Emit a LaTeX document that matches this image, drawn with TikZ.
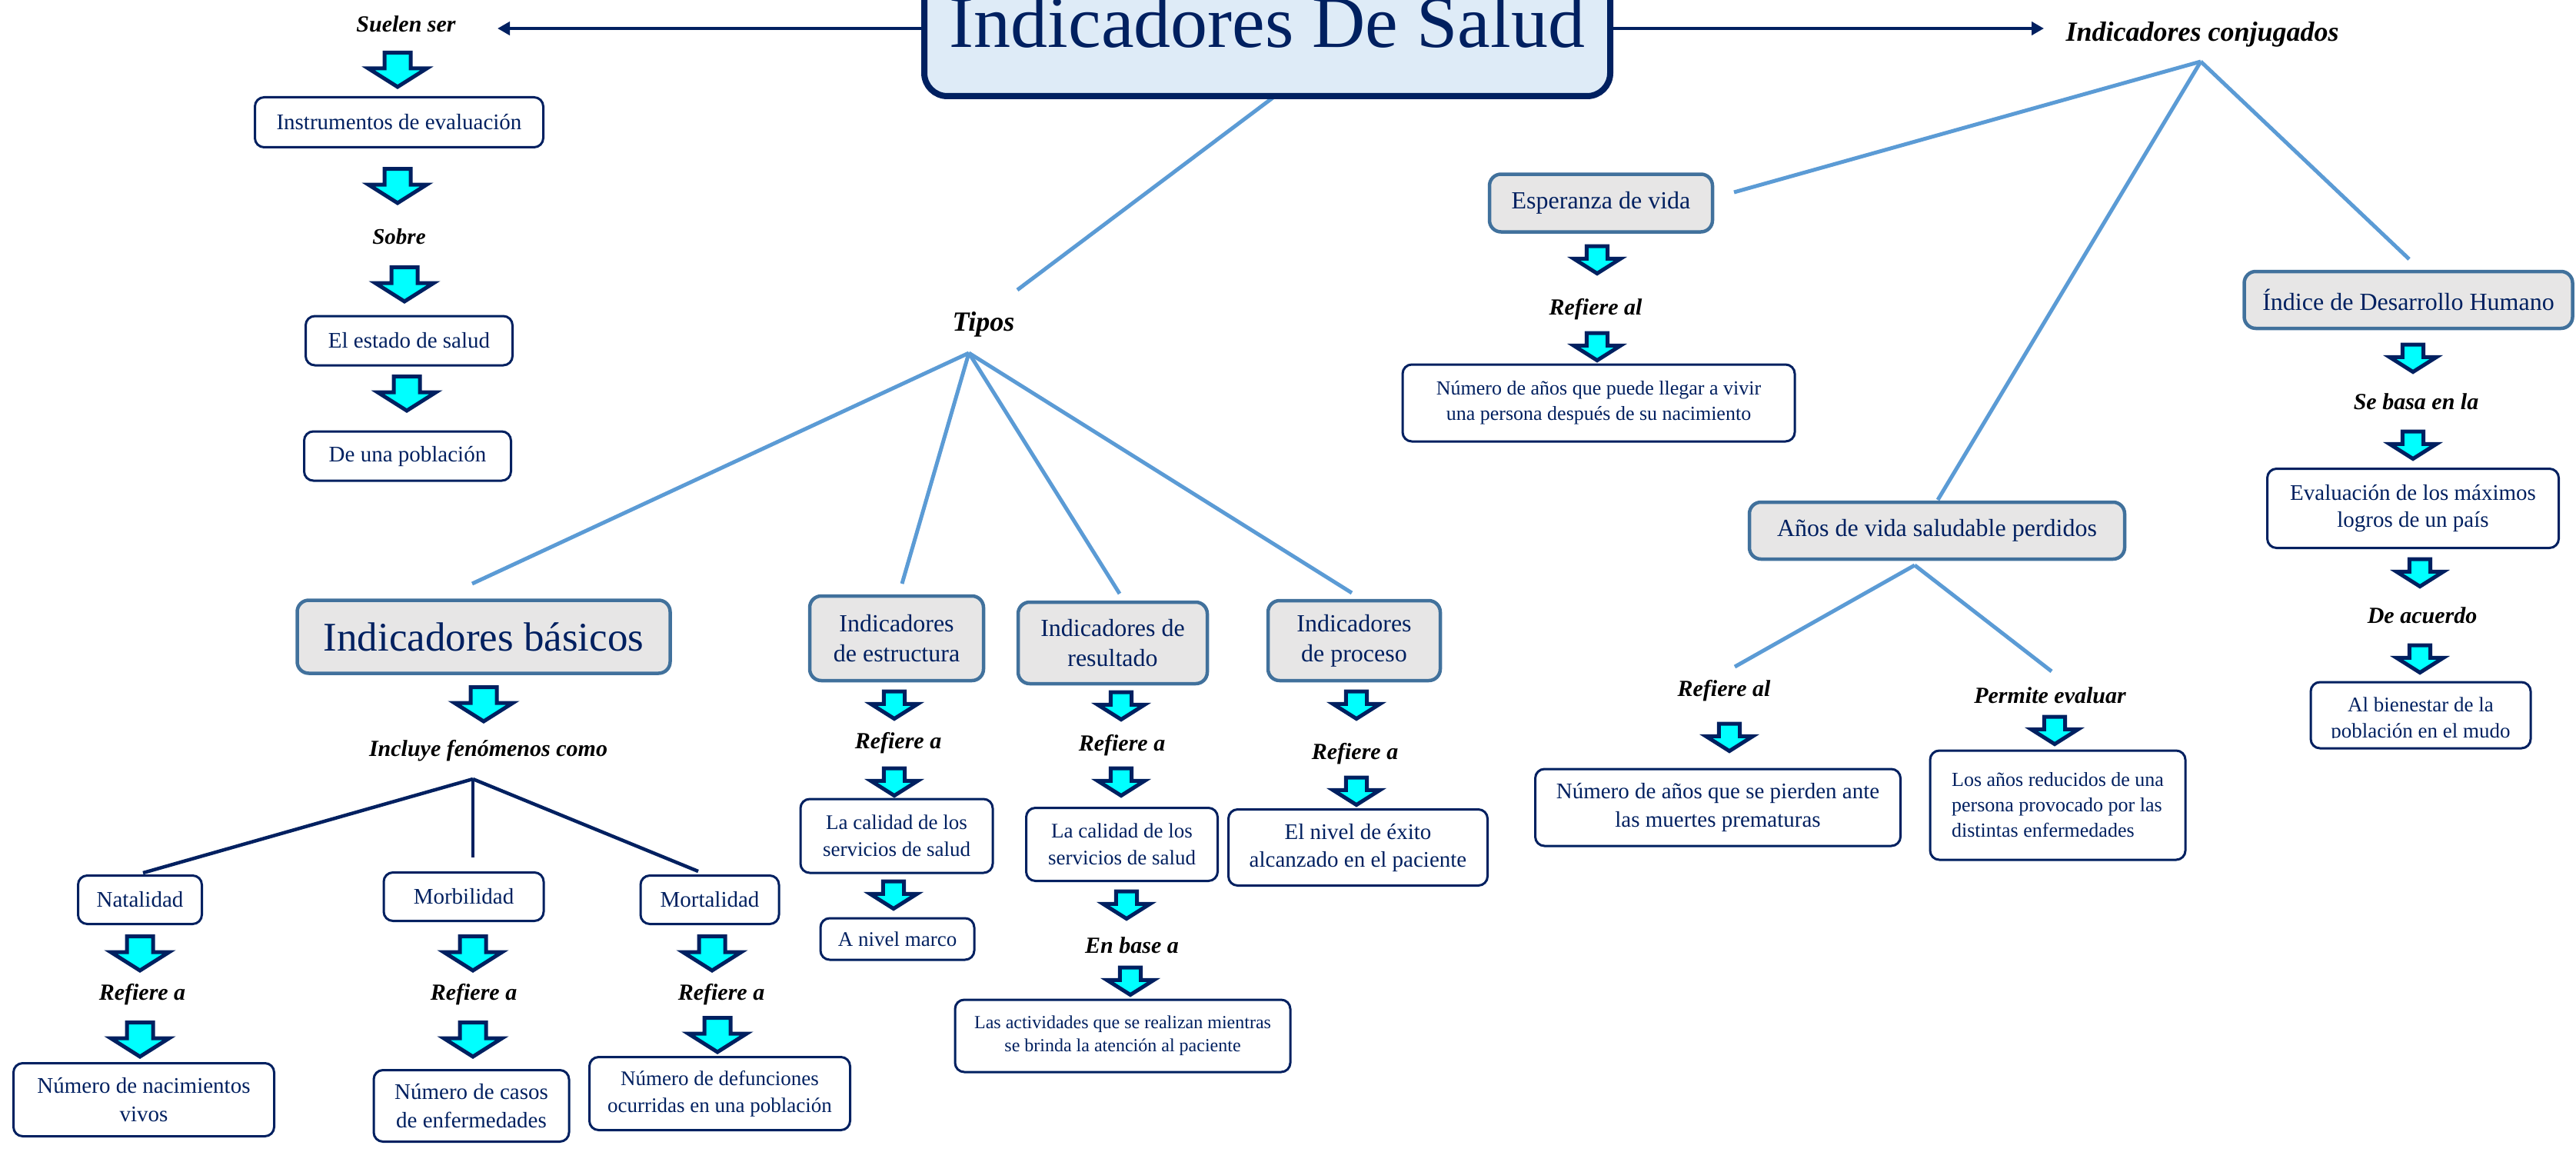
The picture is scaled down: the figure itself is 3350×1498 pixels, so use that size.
\documentclass[tikz,border=0pt]{standalone}
\usepackage{fontspec}
\setmainfont{Liberation Serif}
\usetikzlibrary{arrows.meta}
\definecolor{navy}{HTML}{002060}
\definecolor{steel}{HTML}{41719C}
\definecolor{boxgray}{HTML}{E7E6E6}
\definecolor{titlefill}{HTML}{DEEBF7}
\definecolor{lineblue}{HTML}{5B9BD5}
\definecolor{arrcyan}{HTML}{00FFFF}
\newcommand\fs[2]{\fontsize{#1}{#2}\selectfont}
\begin{document}
\begin{tikzpicture}[x=1pt,y=-1pt,
  wbox/.style={draw=navy, line width=3pt, fill=white, rounded corners=12pt, text=navy, align=center, inner sep=0pt},
  gbox/.style={draw=steel, line width=4.5pt, fill=boxgray, rounded corners=15pt, text=navy, align=center, inner sep=0pt, font=\fs{32}{39}},
  lbl/.style={font=\bfseries\itshape\fs{30}{34}, text=black, inner sep=0pt},
  bline/.style={draw=lineblue, line width=5pt},
  nline/.style={draw=navy, line width=4.5pt},
  narr/.style={nline, -{Triangle[length=16pt,width=17pt]}},
  darr/.pic={\filldraw[fill=arrcyan, draw=navy, line width=5pt, line join=miter]
     (-17,2.5) -- (17,2.5) -- (17,23) -- (38,23) -- (0,47) -- (-38,23) -- (-17,23) -- cycle;}
]
\fill[white] (0,0) rectangle (3350,1498);
\useasboundingbox (0,0) rectangle (3350,1498);
\clip (0,0) rectangle (3350,1498);

% ---------- coordinates for connector ends ----------
\coordinate (sueA) at (647,37);
\coordinate (icoA) at (2658,37);
\coordinate (tS) at (1658,125);
\coordinate (tipT) at (1323,377);
\coordinate (tipF) at (1260,459);
\coordinate (ibT) at (614,759);
\coordinate (iesT) at (1173,759);
\coordinate (ireT) at (1456,772);
\coordinate (iprT) at (1758,771);
\coordinate (icoF) at (2862,80);
\coordinate (espR) at (2255,250);
\coordinate (avpT) at (2520,650);
\coordinate (idhT) at (3133,337);
\coordinate (avpF) at (2490,735);
\coordinate (rfa2T) at (2256,867);
\coordinate (pevT) at (2668,873);
\coordinate (incF) at (615,1013);
\coordinate (natT) at (186,1135);
\coordinate (morT) at (615,1115);
\coordinate (mrtT) at (908,1133);

% ---------- connectors ----------
\draw[bline] (tS) -- (tipT);
\draw[bline] (tipF) -- (ibT);
\draw[bline] (tipF) -- (iesT);
\draw[bline] (tipF) -- (ireT);
\draw[bline] (tipF) -- (iprT);
\draw[bline] (icoF) -- (espR);
\draw[bline] (icoF) -- (avpT);
\draw[bline] (icoF) -- (idhT);
\draw[bline] (avpF) -- (rfa2T);
\draw[bline] (avpF) -- (pevT);
\draw[nline] (incF) -- (natT);
\draw[nline] (incF) -- (morT);
\draw[nline] (incF) -- (mrtT);

% ---------- title ----------
\node[draw=navy, line width=8pt, fill=titlefill, rounded corners=30pt, minimum width=892pt,
      minimum height=192pt, text=navy, font=\fs{96}{110}, inner sep=0pt] (title) at (1648,29) {Indicadores De Salud};
\draw[narr] (title.west |- sueA) -- (sueA);
\draw[narr] (title.east |- icoA) -- (icoA);

% ---------- left column ----------
\node[lbl] (sue) at (528,31) {Suelen ser};
\pic at (517,66) {darr};
\node[wbox, minimum width=375pt, minimum height=65pt, font=\fs{29}{37}] (ins) at (519,159) {Instrumentos de evaluación};
\pic at (517,217) {darr};
\node[lbl, font=\bfseries\itshape\fs{29}{34}] (sob) at (519,308) {Sobre};
\pic at (526,345) {darr};
\node[wbox, minimum width=269pt, minimum height=64pt, font=\fs{29}{37}] (est) at (532,443) {El estado de salud};
\pic at (529,487) {darr};
\node[wbox, minimum width=269pt, minimum height=64pt, font=\fs{29}{37}] (pob) at (530,593) {De una población};

% ---------- Tipos ----------
\node[lbl, font=\bfseries\itshape\fs{36}{40}] (tip) at (1279,422) {Tipos};

\node[gbox, minimum width=485pt, minimum height=95pt, font=\fs{53}{60}] (ib) at (629,828) {Indicadores básicos};
\pic at (629,891) {darr};
\node[lbl] (inc) at (635,976) {Incluye fenómenos como};

\node[wbox, minimum width=161pt, minimum height=63pt, font=\fs{29}{37}] (nat) at (182,1170) {Natalidad};
\node[wbox, minimum width=208pt, minimum height=63pt, font=\fs{29}{37}] (mor) at (603,1166) {Morbilidad};
\node[wbox, minimum width=180pt, minimum height=63pt, font=\fs{29}{37}] (mrt) at (923,1170) {Mortalidad};
\pic at (182,1215) {darr};
\pic at (615,1215) {darr};
\pic at (926,1215) {darr};
\node[lbl] (rna) at (185,1293) {Refiere a};
\node[lbl] (rmo) at (616,1293) {Refiere a};
\node[lbl] (rmt) at (938,1293) {Refiere a};
\pic at (182,1327) {darr};
\pic at (615,1327) {darr};
\pic at (933,1321) {darr};
\node[wbox, minimum width=339pt, minimum height=95pt, font=\fs{29}{37}] (nnv) at (187,1430) {Número de nacimientos\\vivos};
\node[wbox, minimum width=254pt, minimum height=93pt, font=\fs{29}{37}] (nce) at (613,1438) {Número de casos\\de enfermedades};
\node[wbox, minimum width=339pt, minimum height=95pt, font=\fs{27}{35}] (ndf) at (936,1422) {Número de defunciones\\ocurridas en una población};

% estructura
\node[gbox, minimum width=226pt, minimum height=110pt] (ies) at (1166,830) {Indicadores\\de estructura};
\pic[scale=0.8] at (1163,897) {darr};
\node[lbl] (res) at (1168,966) {Refiere a};
\pic[scale=0.8] at (1163,997) {darr};
\node[wbox, minimum width=250pt, minimum height=96pt, font=\fs{27}{35}] (cal1) at (1166,1087) {La calidad de los\\servicios de salud};
\pic[scale=0.8] at (1162,1144) {darr};
\node[wbox, minimum width=200pt, minimum height=54pt, font=\fs{27}{35}] (anm) at (1167,1221) {A nivel marco};

% resultado
\node[gbox, minimum width=246pt, minimum height=106pt] (ire) at (1447,836) {Indicadores de\\resultado};
\pic[scale=0.8] at (1458,898) {darr};
\node[lbl] (rre) at (1459,969) {Refiere a};
\pic[scale=0.8] at (1458,997) {darr};
\node[wbox, minimum width=249pt, minimum height=95pt, font=\fs{27}{35}] (cal2) at (1459,1098) {La calidad de los\\servicios de salud};
\pic[scale=0.8] at (1465,1157) {darr};
\node[lbl] (enb) at (1472,1229) {En base a};
\pic[scale=0.8] at (1470,1256) {darr};
\node[wbox, minimum width=436pt, minimum height=94pt, font=\fs{24}{30}] (act) at (1460,1347) {Las actividades que se realizan mientras\\se brinda la atención al paciente};

% proceso
\node[gbox, minimum width=224pt, minimum height=104pt] (ipr) at (1761,833) {Indicadores\\de proceso};
\pic[scale=0.8] at (1764,897) {darr};
\node[lbl] (rpr) at (1762,980) {Refiere a};
\pic[scale=0.8] at (1764,1009) {darr};
\node[wbox, minimum width=337pt, minimum height=99pt, font=\fs{29}{36}] (exi) at (1766,1102) {El nivel de éxito\\alcanzado en el paciente};

% ---------- right side ----------
\node[lbl, font=\bfseries\itshape\fs{36}{40}] (ico) at (2864,45) {Indicadores conjugados};

\node[gbox, minimum width=290pt, minimum height=75pt] (esp) at (2082,264) {Esperanza de vida};
\pic[scale=0.8] at (2077,318) {darr};
\node[lbl] (rfa1) at (2075,402) {Refiere al};
\pic[scale=0.8] at (2077,431) {darr};
\node[wbox, minimum width=510pt, minimum height=100pt, font=\fs{26}{33}] (nav) at (2079,524) {Número de años que puede llegar a vivir\\una persona después de su nacimiento};

\node[gbox, minimum width=488pt, minimum height=74pt] (avp) at (2519,690) {Años de vida saludable perdidos};
\node[lbl] (rfa2) at (2242,898) {Refiere al};
\node[lbl] (pev) at (2666,904) {Permite evaluar};
\pic[scale=0.8] at (2249,939) {darr};
\pic[scale=0.8] at (2672,930) {darr};
\node[wbox, minimum width=475pt, minimum height=100pt, font=\fs{29}{37}] (nap) at (2234,1050) {Número de años que se pierden ante\\las muertes prematuras};
\node[wbox, minimum width=332pt, minimum height=142pt, font=\fs{26}{33}, align=left] (lar) at (2676,1047) {Los años reducidos de una\\persona provocado por las\\distintas enfermedades};

\node[gbox, minimum width=427pt, minimum height=74pt] (idh) at (3132,390) {Índice de Desarrollo Humano};
\pic[scale=0.8] at (3138,446) {darr};
\node[lbl] (sbl) at (3142,522) {Se basa en la};
\pic[scale=0.8] at (3138,559) {darr};
\node[wbox, minimum width=379pt, minimum height=103pt, font=\fs{29}{35}] (eva) at (3138,661) {Evaluación de los máximos\\logros de un país};
\pic[scale=0.8] at (3147,725) {darr};
\node[lbl] (dea) at (3150,800) {De acuerdo};
\pic[scale=0.8] at (3147,837) {darr};
\node[wbox, minimum width=286pt, minimum height=86pt] (abi) at (3148,930) {};
\begin{scope}
  \clip (3006,889) rectangle (3289,959);
  \node[text=navy, align=center, inner sep=0pt, font=\fs{27}{34}] (abit) at (abi.center) [yshift=-6pt] {Al bienestar de la\\población en el mudo};
\end{scope}
\end{tikzpicture}
\end{document}
